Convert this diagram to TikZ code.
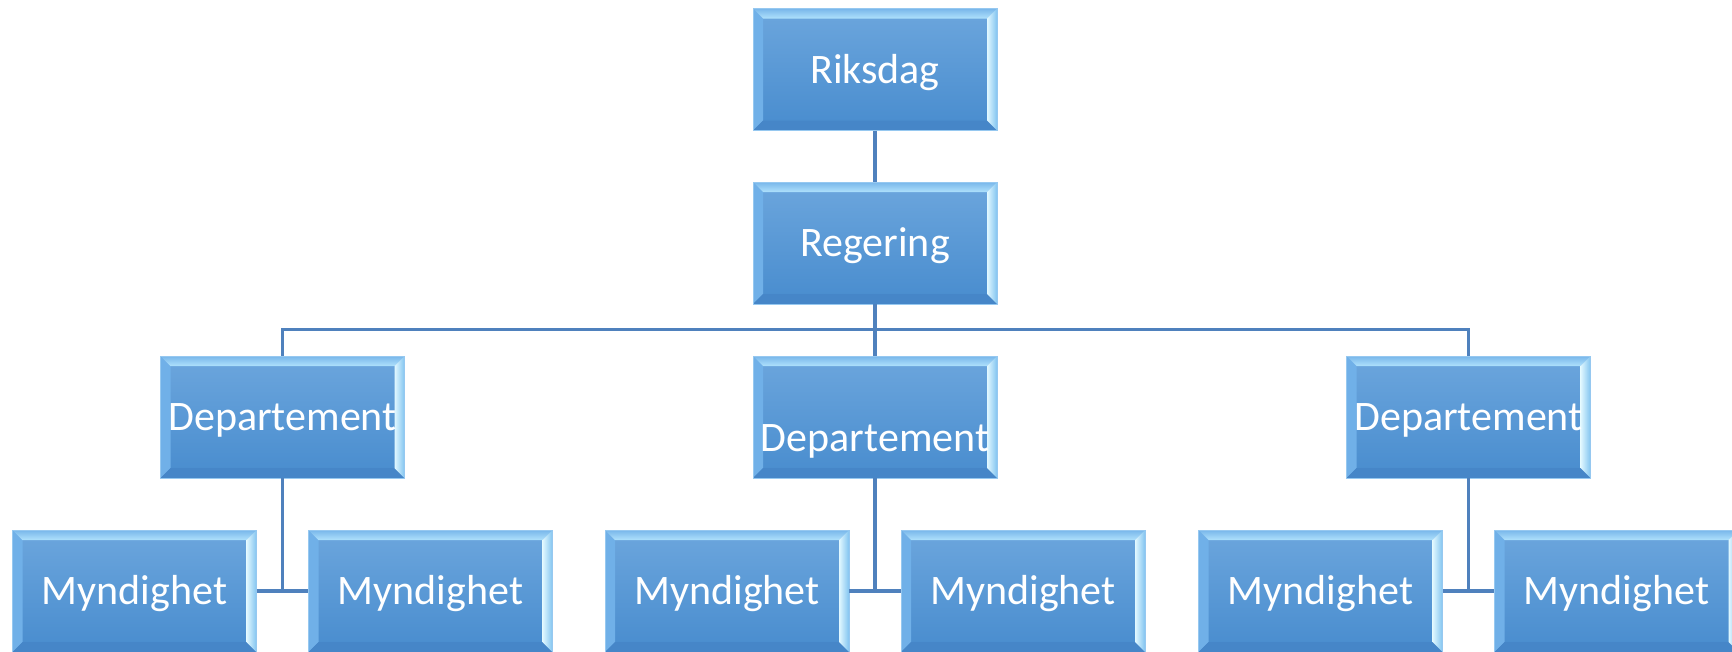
\documentclass[tikz,border=0pt]{standalone}
\usepackage{fontspec}
\setmainfont{Carlito}
\definecolor{mainTop}{RGB}{108,166,221}
\definecolor{mainBot}{RGB}{72,140,206}
\definecolor{bevTopOut}{RGB}{120,182,234}
\definecolor{bevTopIn}{RGB}{175,225,252}
\definecolor{bevLeft}{RGB}{112,176,232}
\definecolor{bevRightIn}{RGB}{225,248,255}
\definecolor{bevRightOut}{RGB}{130,196,240}
\definecolor{bevBot}{RGB}{70,134,200}
\definecolor{edgeCol}{RGB}{150,200,240}
\definecolor{lineCol}{RGB}{79,129,189}
\tikzset{
  orgbox/.style={rectangle, inner sep=0pt, minimum width=244pt, minimum height=122pt,
    text=white, font=\fontsize{42}{48}\selectfont,
    text height=31pt, text depth=3.5pt,
    top color=mainTop, bottom color=mainBot,
    draw=edgeCol, line width=0.8pt,
    path picture={
      \coordinate (nw) at (path picture bounding box.north west);
      \coordinate (ne) at (path picture bounding box.north east);
      \coordinate (sw) at (path picture bounding box.south west);
      \coordinate (se) at (path picture bounding box.south east);
      \fill[bevLeft] (nw) -- ([shift={(10pt,-10pt)}]nw) -- ([shift={(10pt,10pt)}]sw) -- (sw) -- cycle;
      \fill[bevBot] (sw) -- ([shift={(10pt,10pt)}]sw) -- ([shift={(-10pt,10pt)}]se) -- (se) -- cycle;
      \shade[top color=bevTopOut, bottom color=bevTopIn] (nw) -- (ne) -- ([shift={(-10pt,-10pt)}]ne) -- ([shift={(10pt,-10pt)}]nw) -- cycle;
      \shade[left color=bevRightIn, right color=bevRightOut] (ne) -- (se) -- ([shift={(-10pt,10pt)}]se) -- ([shift={(-10pt,-10pt)}]ne) -- cycle;
    }},
  conn/.style={draw=lineCol, line width=3.5pt},
  busline/.style={draw=lineCol, line width=3pt}
}
\begin{document}
\begin{tikzpicture}[x=1pt,y=-1pt]
\useasboundingbox (0,0) rectangle (1732,651);
\node[orgbox] (riks) at (875,69.5) {Riksdag};
\node[orgbox] (reg) at (875,243) {Regering};
\node[orgbox] (d1) at (282.5,417) {Departement};
\node[orgbox] (d2) at (875,417) {\raisebox{-21pt}[\height][\depth]{Departement}};
\node[orgbox] (d3) at (1468.5,417) {Departement};
\node[orgbox] (m1) at (134.5,591) {Myndighet};
\node[orgbox] (m2) at (430.5,591) {Myndighet};
\node[orgbox] (m3) at (727,591) {Myndighet};
\node[orgbox] (m4) at (1023,591) {Myndighet};
\node[orgbox] (m5) at (1320.5,591) {Myndighet};
\node[orgbox] (m6) at (1616.5,591) {Myndighet};
\coordinate (bus) at (875,329);
\draw[conn] (riks.south) -- (reg.north);
\draw[conn] (reg.south) -- (d2.north);
\draw[busline] (d1.north) |- (bus) -| (d3.north);
\draw[conn] (d1.south) -- (d1.south |- m1.east);
\draw[conn] (m1.east) -- (m2.west);
\draw[conn] (d2.south) -- (d2.south |- m3.east);
\draw[conn] (m3.east) -- (m4.west);
\draw[conn] (d3.south) -- (d3.south |- m5.east);
\draw[conn] (m5.east) -- (m6.west);
\end{tikzpicture}
\end{document}
